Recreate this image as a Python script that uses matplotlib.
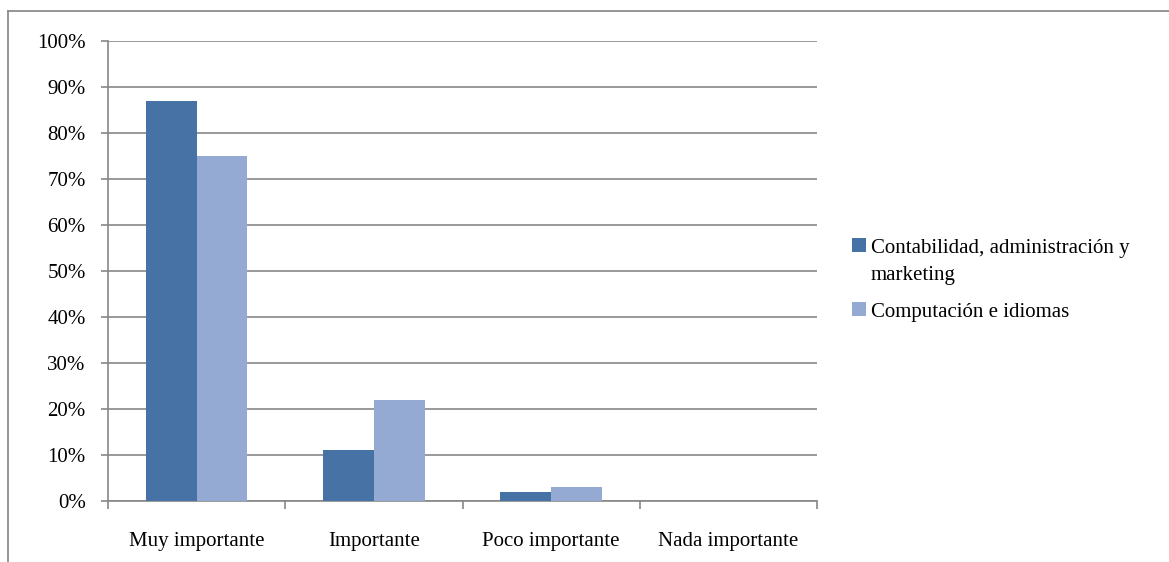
import matplotlib
matplotlib.use("Agg")
import matplotlib.pyplot as plt
import numpy as np
from matplotlib.lines import Line2D
from matplotlib.patches import Rectangle
from matplotlib.ticker import FixedLocator

categories = ["Muy importante", "Importante", "Poco importante", "Nada importante"]
series_names = ["Contabilidad, administración y\nmarketing", "Computación e idiomas"]
contabilidad = [87, 11, 2, 0]
computacion = [75, 22, 3, 0]
y_ticks = [0, 10, 20, 30, 40, 50, 60, 70, 80, 90, 100]
y_labels = [f"{v}%" for v in y_ticks]

colors = ["#4672A6", "#95AAD2"]
grid_c = "#878787"
FS = 15

plt.rcParams["font.family"] = ["Liberation Serif", "DejaVu Serif"]

fig = plt.figure(figsize=(11.69, 5.62), dpi=100)
W, H = 1169, 562
ax = fig.add_axes([108 / W, 1 - 501 / H, (817 - 108) / W, (501 - 41) / H])

x = np.arange(len(categories))
bw = 1 / 3.5
ax.bar(x - bw / 2, contabilidad, width=bw, color=colors[0], zorder=3)
ax.bar(x + bw / 2, computacion, width=bw, color=colors[1], zorder=3)

ax.set_xlim(-0.5, len(categories) - 0.5)
ax.set_ylim(0, 100)
ax.set_yticks(y_ticks)
ax.set_yticklabels(y_labels, fontsize=FS)
ax.yaxis.grid(True, color=grid_c, linewidth=1.2, zorder=0)
ax.set_axisbelow(True)

ax.set_xticks(x)
ax.set_xticklabels(categories, fontsize=FS)
ax.xaxis.set_minor_locator(FixedLocator(np.arange(-0.5, len(categories), 1.0)))
ax.tick_params(axis="x", which="major", length=0, pad=22)
ax.tick_params(axis="x", which="minor", length=6, width=1.2, color=grid_c, direction="out")
ax.tick_params(axis="y", length=5, width=1.2, color=grid_c, direction="out", pad=11)

for s in ["top", "right"]:
    ax.spines[s].set_visible(False)
for s in ["left", "bottom"]:
    ax.spines[s].set_color(grid_c)
    ax.spines[s].set_linewidth(1.2)

# legend (manual, to match line spacing of the original)
sq = 14
entry_base = [253, 317]   # baseline of first line of each entry (px from top)
line_step = 27
for c, name, base in zip(colors, series_names, entry_base):
    cy = base - 8
    fig.add_artist(Rectangle((852 / W, 1 - (cy + sq / 2) / H), sq / W, sq / H,
                             transform=fig.transFigure, facecolor=c, edgecolor="none"))
    for i, line in enumerate(name.split("\n")):
        fig.text(871 / W, 1 - (base + i * line_step) / H, line, fontsize=FS,
                 ha="left", va="baseline")

# outer chart border
fig.add_artist(Line2D([8 / W, 8 / W], [0, 1 - 11 / H], transform=fig.transFigure,
                      color="#8c8c8c", linewidth=1.3))
fig.add_artist(Line2D([8 / W, 1], [1 - 11 / H, 1 - 11 / H], transform=fig.transFigure,
                      color="#8c8c8c", linewidth=1.3))

fig.savefig("out.png", dpi=100, facecolor="white")
